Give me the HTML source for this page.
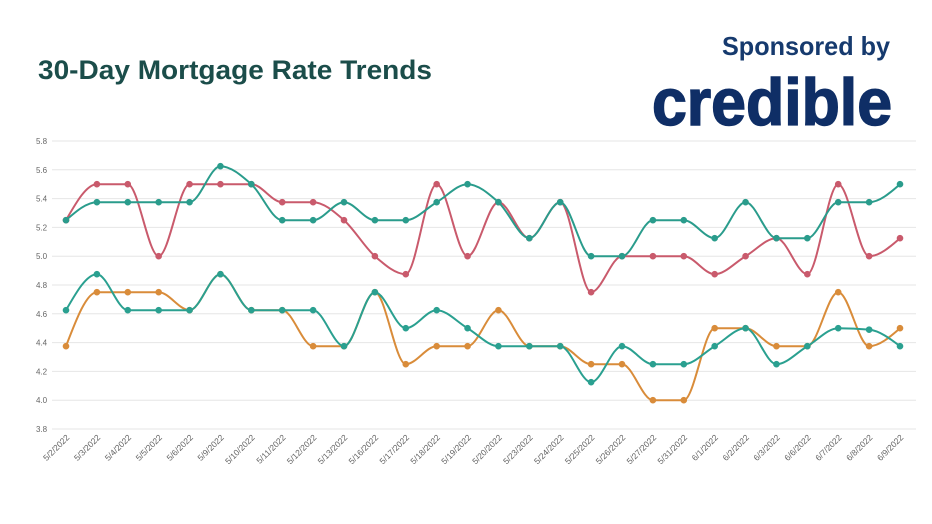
<!DOCTYPE html>
<html><head><meta charset="utf-8"><style>
html,body{margin:0;padding:0;background:#fff;}
svg{display:block;}
</style></head><body>
<svg id="s" width="932" height="524" viewBox="0 0 932 524" xmlns="http://www.w3.org/2000/svg" font-family="Liberation Sans, sans-serif">
<rect width="932" height="524" fill="#fff"/>
<text x="38" y="79" font-size="27" font-weight="bold" fill="#1b4d4a" textLength="394" lengthAdjust="spacingAndGlyphs">30-Day Mortgage Rate Trends</text>
<text x="722" y="55" font-size="26" font-weight="bold" fill="#163a6e" textLength="168" lengthAdjust="spacingAndGlyphs">Sponsored by</text>
<text x="652" y="125" font-size="66" font-weight="bold" fill="#0f2e66" stroke="#0f2e66" stroke-width="1.5" textLength="240" lengthAdjust="spacingAndGlyphs">credible</text>
<g id="grid"></g>
<g id="series"></g>
</svg>
<script>
const NS="http://www.w3.org/2000/svg";
const s=document.getElementById('s'),g=document.getElementById('grid'),se=document.getElementById('series');
function el(t,a,p){const e=document.createElementNS(NS,t);for(const k in a)e.setAttribute(k,a[k]);(p||s).appendChild(e);return e;}
const Y=v=>141+(5.8-v)*144;
const X=i=>66+i*834/27;
for(let k=0;k<=10;k++){const v=3.8+k*0.2,y=Y(v);
 el('line',{x1:52,x2:916,y1:y,y2:y,stroke:'#e6e6e6','stroke-width':1},g);
 const t=el('text',{x:36,y:y+3,'font-size':8,fill:'#666'},g);t.textContent=v.toFixed(1);}
const dates=["5/2/2022","5/3/2022","5/4/2022","5/5/2022","5/6/2022","5/9/2022","5/10/2022","5/11/2022","5/12/2022","5/13/2022","5/16/2022","5/17/2022","5/18/2022","5/19/2022","5/20/2022","5/23/2022","5/24/2022","5/25/2022","5/26/2022","5/27/2022","5/31/2022","6/1/2022","6/2/2022","6/3/2022","6/6/2022","6/7/2022","6/8/2022","6/9/2022"];
dates.forEach((d,i)=>{const x=X(i)+4,y=438;const t=el('text',{x:x,y:y,'font-size':8.5,fill:'#666','text-anchor':'end',transform:`rotate(-45 ${x} ${y})`},g);t.textContent=d;});
const data=[
['#c95a6c',[5.25,5.5,5.5,5.0,5.5,5.5,5.5,5.375,5.375,5.25,5.0,4.875,5.5,5.0,5.375,5.125,5.375,4.75,5.0,5.0,5.0,4.875,5.0,5.125,4.875,5.5,5.0,5.125]],
['#d98c3a',[4.375,4.75,4.75,4.75,4.625,4.875,4.625,4.625,4.375,4.375,4.75,4.25,4.375,4.375,4.625,4.375,4.375,4.25,4.25,4.0,4.0,4.5,4.5,4.375,4.375,4.75,4.375,4.5]],
['#2a9c8c',[5.25,5.375,5.375,5.375,5.375,5.625,5.5,5.25,5.25,5.375,5.25,5.25,5.375,5.5,5.375,5.125,5.375,5.0,5.0,5.25,5.25,5.125,5.375,5.125,5.125,5.375,5.375,5.5]],
['#2aa090',[4.625,4.875,4.625,4.625,4.625,4.875,4.625,4.625,4.625,4.375,4.75,4.5,4.625,4.5,4.375,4.375,4.375,4.125,4.375,4.25,4.25,4.375,4.5,4.25,4.375,4.5,4.49,4.375]]
];
const sg=x=>x<0?-1:x>0?1:0;
data.forEach(([c,v])=>{
 const p=v.map((y,i)=>[X(i),Y(y)]),n=p.length,t=new Array(n);
 for(let i=1;i<n-1;i++){const h0=p[i][0]-p[i-1][0],h1=p[i+1][0]-p[i][0],s0=(p[i][1]-p[i-1][1])/h0,s1=(p[i+1][1]-p[i][1])/h1,pp=(s0*h1+s1*h0)/(h0+h1);
  t[i]=(sg(s0)+sg(s1))*Math.min(Math.abs(s0),Math.abs(s1),0.5*Math.abs(pp))||0;}
 {const h=p[1][0]-p[0][0];t[0]=(3*(p[1][1]-p[0][1])/h-t[1])/2;}
 {const h=p[n-1][0]-p[n-2][0];t[n-1]=(3*(p[n-1][1]-p[n-2][1])/h-t[n-2])/2;}
 let d=`M${p[0][0]},${p[0][1]}`;
 for(let i=0;i<n-1;i++){const dx=(p[i+1][0]-p[i][0])/3;
  d+=`C${p[i][0]+dx},${p[i][1]+dx*t[i]} ${p[i+1][0]-dx},${p[i+1][1]-dx*t[i+1]} ${p[i+1][0]},${p[i+1][1]}`;}
 el('path',{d:d,fill:'none',stroke:c,'stroke-width':2},se);
 p.forEach(q=>el('circle',{cx:q[0],cy:q[1],r:3.3,fill:c},se));
});
</script>
</body></html>
